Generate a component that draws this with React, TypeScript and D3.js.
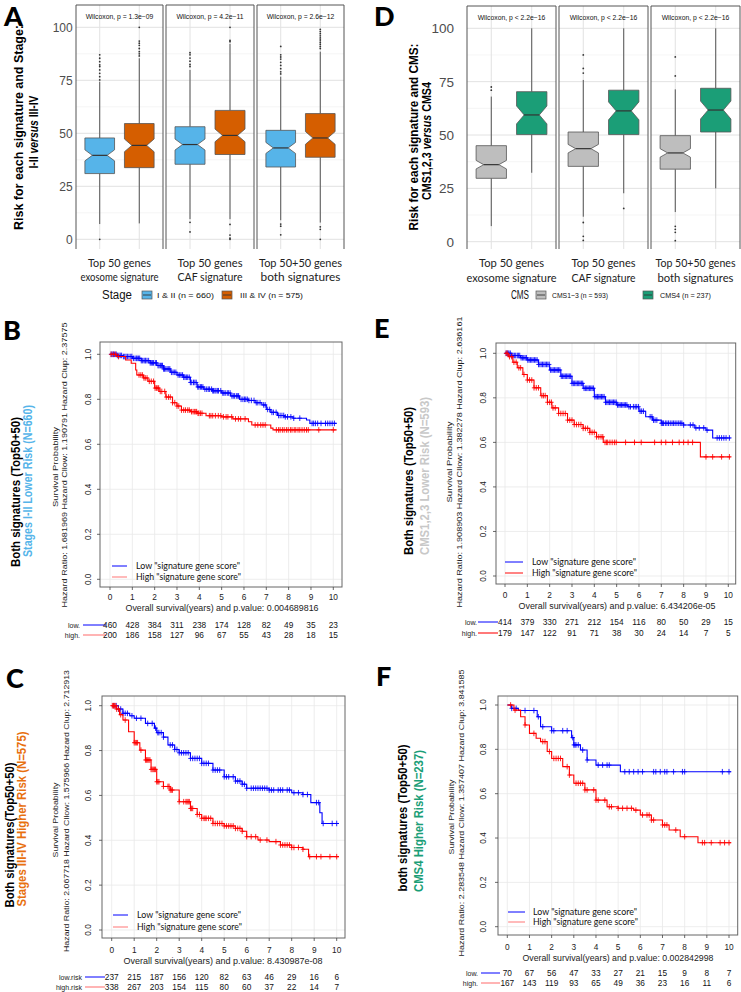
import React from "react";
import * as d3 from "d3";

// ---------------- Box plot data (A: Stage, D: CMS) ----------------
const facetTop = ["Top 50 genes", "Top 50 genes", "Top 50+50 genes"];
const facetBottom = ["exosome signature", "CAF signature", "both signatures"];
const riskTicks = [0, 25, 50, 75, 100];
const riskMinor = [12.5, 37.5, 62.5, 87.5];

// [lower whisker, Q1, median, Q3, upper whisker]
const stageEarlyBox = [[7.2, 31, 39.6, 47.8, 74.3], [9.5, 35.4, 44.7, 53.1, 79.9], [9, 34.1, 43.1, 51.4, 76.7]];
const stageLateBox = [[7.5, 33.8, 44.3, 54.6, 85.4], [9.5, 40, 49, 60.8, 92.2], [7.9, 38.7, 47.8, 59.3, 88.5]];
const stageEarlyOut = [
  [87, 85.4, 83.8, 82.3, 81.5, 79.9, 78.3, 76.7, 75.2, 0],
  [88, 87, 85.5, 84, 82.5, 81.5, 8, 3.5],
  [91, 87, 86, 85, 83.5, 82, 80.5, 79, 78, 7.2, 6.2, 2.1],
];
const stageLateOut = [
  [100, 93.5, 92.5, 91.5, 90, 88.5, 87.5, 86.5],
  [100, 93.8, 93.2, 7, 2, 0.5, 0],
  [99, 98, 97, 96, 95, 94, 93, 92, 91, 90, 5.9, 4.7, 0],
];
const stageNotch = [2.6, 3];
const stagePLabels = ["Wilcoxon, p = 1.3e\u221209", "Wilcoxon, p = 4.2e\u221211", "Wilcoxon, p = 2.6e\u221212"];
const stageLegend = ["I & II (n = 660)", "III & IV (n = 575)"];

const cmsLowBox = [[7.3, 29.7, 36.1, 45, 68], [11.7, 35.3, 43.6, 51.4, 75.8], [13.9, 34, 41.6, 49.7, 71.4]];
const cmsHighBox = [[32.3, 50.2, 59.4, 70.3, 100], [22.7, 50.2, 61.3, 71, 100], [25, 51.4, 61.7, 71.9, 100]];
const cmsLowOut = [
  [72.5, 71],
  [87.5, 81.2, 79, 9, 2.5, 0.6],
  [86.6, 77.7, 7.2, 5.8, 4.4, 0.5],
];
const cmsHighOut = [[], [15.6], []];
const cmsNotch = [2, 4.2];
const cmsPLabels = ["Wilcoxon, p < 2.2e\u221216", "Wilcoxon, p < 2.2e\u221216", "Wilcoxon, p < 2.2e\u221216"];
const cmsLegend = ["CMS1\u22123 (n = 593)", "CMS4 (n = 237)"];

// ---------------- Kaplan-Meier data ----------------
// step points [years, survival]
const bLow = [[0, 1], [0.3, 0.995], [0.6, 0.99], [1.0, 0.982], [1.4, 0.972], [1.8, 0.962], [2.1, 0.95], [2.4, 0.935], [2.7, 0.92], [3.0, 0.908], [3.3, 0.898], [3.6, 0.875], [3.9, 0.855], [4.2, 0.845], [4.6, 0.838], [5.0, 0.828], [5.4, 0.815], [5.8, 0.8], [6.2, 0.795], [6.5, 0.785], [6.8, 0.775], [7.0, 0.755], [7.2, 0.742], [7.5, 0.728], [7.8, 0.722], [8.2, 0.716], [8.8, 0.708], [8.95, 0.693], [10.15, 0.693]];
const bHigh = [[0, 1], [0.3, 0.99], [0.7, 0.975], [0.95, 0.96], [1.15, 0.93], [1.2, 0.908], [1.5, 0.895], [1.7, 0.88], [2.0, 0.85], [2.2, 0.835], [2.5, 0.81], [2.8, 0.785], [3.0, 0.77], [3.2, 0.752], [3.6, 0.745], [3.9, 0.738], [4.3, 0.727], [5.0, 0.722], [5.5, 0.713], [6.2, 0.7], [6.35, 0.686], [7.2, 0.672], [7.3, 0.664], [10.15, 0.664]];
const bLowCens = [0.05, 0.1, 0.15, 0.2, 0.28, 0.33, 0.4, 0.46, 0.52, 0.6, 0.66, 0.72, 0.78, 0.85, 0.93, 0.98, 1.05, 1.12, 1.18, 1.22, 1.28, 1.33, 1.4, 1.45, 1.52, 1.57, 1.6, 1.66, 1.73, 1.8, 1.85, 1.9, 1.95, 2.03, 2.08, 2.15, 2.2, 2.26, 2.31, 2.35, 2.4, 2.44, 2.5, 2.56, 2.63, 2.68, 2.75, 2.82, 2.88, 2.95, 3.05, 3.12, 3.18, 3.25, 3.3, 3.36, 3.42, 3.48, 3.55, 3.6, 3.66, 3.74, 3.8, 3.86, 3.93, 3.98, 4.05, 4.1, 4.16, 4.25, 4.33, 4.4, 4.46, 4.55, 4.6, 4.64, 4.7, 4.75, 4.82, 4.86, 4.96, 5.05, 5.1, 5.16, 5.25, 5.3, 5.38, 5.46, 5.52, 5.58, 5.66, 5.72, 5.76, 5.87, 5.95, 6.02, 6.08, 6.15, 6.22, 6.33, 6.45, 6.55, 6.62, 6.72, 6.88, 6.95, 7.06, 7.15, 7.25, 7.32, 7.44, 7.55, 7.62, 7.7, 7.78, 7.85, 7.95, 8.1, 8.23, 8.5, 9.05, 9.12, 9.2, 9.3, 9.45, 9.65, 9.75, 9.85, 9.95, 10.05];
const bHighCens = [0.05, 0.15, 0.25, 0.38, 1.3, 1.38, 1.45, 1.52, 1.58, 1.66, 1.76, 1.85, 1.95, 2.02, 2.08, 2.14, 2.18, 2.25, 2.32, 2.45, 2.52, 2.62, 2.7, 2.8, 2.9, 3.0, 3.08, 3.2, 3.3, 3.38, 3.48, 3.55, 3.65, 3.72, 3.78, 3.84, 3.88, 3.94, 3.98, 4.05, 4.12, 4.45, 4.52, 4.6, 4.72, 4.85, 4.96, 5.08, 5.2, 5.28, 5.45, 5.62, 5.75, 5.85, 6.05, 6.5, 6.62, 6.75, 6.85, 6.95, 7.45, 7.55, 7.62, 7.72, 7.8, 7.9, 7.98, 8.08, 8.15, 8.25, 8.32, 8.42, 8.5, 8.6, 8.7, 8.8, 8.88, 9.35, 10.0];

const eLow = [[0, 1], [0.3, 0.99], [0.7, 0.98], [1.0, 0.97], [1.5, 0.95], [2.0, 0.925], [2.5, 0.897], [3.0, 0.865], [3.5, 0.843], [4.0, 0.805], [4.5, 0.78], [5.0, 0.768], [5.5, 0.76], [6.0, 0.74], [6.3, 0.715], [6.6, 0.7], [7.0, 0.686], [8.0, 0.678], [8.5, 0.665], [9.0, 0.655], [9.3, 0.62], [10.1, 0.62]];
const eHigh = [[0, 1], [0.15, 0.985], [0.35, 0.96], [0.55, 0.935], [0.8, 0.905], [1.0, 0.88], [1.3, 0.845], [1.6, 0.81], [1.9, 0.78], [2.1, 0.755], [2.4, 0.73], [2.8, 0.7], [3.1, 0.68], [3.5, 0.663], [3.8, 0.645], [4.1, 0.625], [4.4, 0.6], [8.75, 0.535], [10.1, 0.535]];
const eLowCens = [0.05, 0.1, 0.14, 0.18, 0.24, 0.3, 0.36, 0.42, 0.48, 0.55, 0.6, 0.66, 0.72, 0.78, 0.84, 0.9, 0.96, 1.02, 1.08, 1.14, 1.2, 1.26, 1.32, 1.38, 1.44, 1.5, 1.56, 1.62, 1.68, 1.74, 1.8, 1.86, 1.92, 1.98, 2.04, 2.1, 2.16, 2.22, 2.28, 2.34, 2.4, 2.46, 2.52, 2.58, 2.64, 2.7, 2.76, 2.82, 2.88, 2.94, 3.0, 3.06, 3.12, 3.18, 3.24, 3.3, 3.36, 3.42, 3.48, 3.54, 3.6, 3.66, 3.72, 3.78, 3.84, 3.9, 3.96, 4.02, 4.08, 4.14, 4.2, 4.26, 4.32, 4.38, 4.44, 4.5, 4.56, 4.62, 4.68, 4.74, 4.8, 4.86, 4.92, 4.98, 5.04, 5.1, 5.16, 5.22, 5.28, 5.34, 5.4, 5.46, 5.55, 5.62, 5.75, 5.83, 5.9, 5.98, 6.05, 6.12, 6.2, 6.5, 6.58, 6.65, 6.72, 6.8, 7.0, 7.05, 7.1, 7.18, 7.25, 7.32, 7.4, 7.48, 7.55, 7.62, 7.7, 7.78, 7.85, 7.92, 8.0, 8.3, 8.42, 8.55, 8.7, 8.9, 9.05, 9.5, 9.6, 9.7, 9.8, 9.9, 10.05];
const eHighCens = [0.05, 0.1, 0.2, 0.3, 0.4, 0.5, 0.62, 0.7, 0.85, 1.0, 1.1, 1.2, 1.3, 1.4, 1.5, 1.65, 1.72, 1.8, 1.9, 2.0, 2.08, 2.15, 2.25, 2.4, 2.5, 2.6, 2.7, 2.8, 2.9, 3.0, 3.1, 3.2, 3.3, 3.4, 3.5, 3.6, 3.7, 3.8, 3.9, 4.0, 4.1, 4.2, 4.3, 4.38, 4.48, 4.55, 4.6, 4.7, 4.8, 4.9, 4.98, 5.4, 5.8, 6.1, 6.7, 7.0, 7.2, 7.5, 7.8, 8.0, 8.2, 8.4, 9.0, 9.3, 9.7, 10.05];

const cLow = [[0, 1], [0.3, 0.985], [0.5, 0.966], [0.8, 0.955], [1.0, 0.944], [1.5, 0.921], [1.9, 0.9], [2.0, 0.88], [2.3, 0.86], [2.5, 0.825], [2.8, 0.805], [3.0, 0.79], [3.5, 0.765], [4.0, 0.743], [4.5, 0.713], [5.0, 0.683], [5.5, 0.664], [5.8, 0.65], [6.0, 0.632], [7.0, 0.624], [8.0, 0.612], [8.5, 0.604], [8.85, 0.568], [9.25, 0.523], [9.35, 0.475], [10.1, 0.475]];
const cHigh = [[0, 1], [0.2, 0.985], [0.35, 0.96], [0.5, 0.936], [0.75, 0.884], [1.0, 0.835], [1.25, 0.802], [1.5, 0.758], [1.75, 0.716], [2.0, 0.661], [2.3, 0.64], [2.6, 0.624], [3.0, 0.572], [3.5, 0.542], [3.8, 0.515], [4.0, 0.498], [4.5, 0.475], [5.0, 0.464], [5.5, 0.453], [5.8, 0.44], [6.0, 0.416], [6.5, 0.401], [7.0, 0.394], [7.5, 0.379], [8.0, 0.368], [8.5, 0.36], [8.75, 0.327], [10.1, 0.327]];
const cLowCens = [0.1, 0.2, 0.3, 0.4, 0.5, 0.6, 0.7, 0.9, 1.1, 1.3, 1.6, 1.8, 1.95, 2.05, 2.1, 2.2, 2.3, 2.6, 2.7, 2.8, 2.9, 3.0, 3.1, 3.2, 3.3, 3.4, 3.5, 3.6, 3.7, 3.8, 3.9, 4.0, 4.1, 4.2, 4.3, 4.5, 4.6, 4.7, 4.8, 5.0, 5.1, 5.2, 5.4, 5.5, 5.6, 5.7, 5.8, 5.9, 6.0, 6.2, 6.3, 6.4, 6.5, 6.6, 6.7, 6.8, 6.9, 7.0, 7.1, 7.2, 7.4, 7.5, 7.6, 7.8, 7.9, 8.1, 8.3, 8.5, 8.7, 9.1, 9.2, 9.4, 9.8, 10.0];
const cHighCens = [0.03, 0.08, 0.12, 0.18, 0.22, 0.3, 0.4, 0.6, 1.0, 1.05, 1.1, 1.15, 1.3, 1.5, 1.55, 1.6, 1.65, 1.7, 1.75, 1.8, 1.85, 1.9, 1.95, 2.0, 2.05, 2.1, 2.3, 2.5, 2.55, 2.6, 2.65, 2.7, 3.0, 3.2, 3.3, 3.35, 3.4, 3.45, 3.5, 3.55, 3.6, 3.8, 3.9, 4.0, 4.1, 4.15, 4.2, 4.3, 4.4, 4.5, 4.6, 4.7, 4.8, 4.9, 5.0, 5.1, 5.2, 5.3, 5.4, 5.5, 5.6, 5.7, 5.8, 6.0, 6.2, 6.4, 6.6, 6.9, 7.3, 7.5, 7.6, 7.7, 7.8, 7.9, 8.0, 8.1, 8.3, 8.5, 8.8, 9.1, 9.3, 9.7, 10.0];

const fLow = [[0, 1], [0.2, 0.985], [0.5, 0.975], [1.35, 0.947], [1.5, 0.902], [2.0, 0.884], [2.9, 0.853], [3.0, 0.82], [3.3, 0.797], [3.6, 0.752], [4.0, 0.729], [5.1, 0.699], [10.1, 0.699]];
const fHigh = [[0, 1], [0.3, 0.977], [0.6, 0.947], [0.8, 0.91], [1.0, 0.872], [1.3, 0.85], [1.5, 0.835], [1.8, 0.79], [2.0, 0.759], [2.5, 0.722], [2.8, 0.684], [3.0, 0.647], [3.5, 0.617], [4.0, 0.571], [4.5, 0.541], [5.0, 0.534], [5.7, 0.526], [6.0, 0.504], [6.5, 0.481], [7.0, 0.459], [7.3, 0.436], [7.8, 0.406], [8.6, 0.379], [10.1, 0.379]];
const fLowCens = [0.2, 0.4, 0.8, 1.2, 1.4, 1.6, 2.0, 2.1, 2.5, 2.7, 2.95, 3.0, 3.05, 3.1, 3.2, 3.4, 3.6, 4.1, 4.3, 4.5, 4.6, 5.3, 5.5, 5.7, 5.9, 6.1, 6.6, 6.7, 6.9, 7.1, 7.2, 7.5, 7.9, 8.0, 9.7, 10.0];
const fHighCens = [0.15, 0.35, 0.8, 1.2, 1.6, 1.7, 1.9, 2.1, 2.2, 2.3, 2.4, 2.7, 2.8, 3.1, 3.2, 3.3, 3.4, 3.5, 3.6, 3.9, 4.0, 4.1, 4.4, 4.6, 4.7, 5.0, 5.2, 5.4, 5.6, 5.8, 6.1, 6.3, 6.4, 6.5, 6.6, 7.0, 7.1, 7.2, 7.6, 8.0, 8.8, 8.9, 9.2, 9.6, 9.8, 10.0];

// numbers at risk (years 0..10)
const bRiskLow = [460, 428, 384, 311, 238, 174, 128, 82, 49, 35, 23];
const bRiskHigh = [200, 186, 158, 127, 96, 67, 55, 43, 28, 18, 15];
const eRiskLow = [414, 379, 330, 271, 212, 154, 116, 80, 50, 29, 15];
const eRiskHigh = [179, 147, 122, 91, 71, 38, 30, 24, 14, 7, 5];
const cRiskLow = [237, 215, 187, 156, 120, 82, 63, 46, 29, 16, 6];
const cRiskHigh = [338, 267, 203, 154, 115, 80, 60, 37, 22, 14, 7];
const fRiskLow = [70, 67, 56, 47, 33, 27, 21, 15, 9, 8, 7];
const fRiskHigh = [167, 143, 119, 93, 65, 49, 36, 23, 16, 11, 6];

const hazardB = "Hazard Ratio: 1.681969  Hazard Cllow: 1.190791  Hazard Clup: 2.37575";
const hazardE = "Hazard Ratio: 1.908903  Hazard Cllow: 1.382278  Hazard Clup: 2.636161";
const hazardC = "Hazard Ratio: 2.067718  Hazard Cllow: 1.575966  Hazard Clup: 2.712913";
const hazardF = "Hazard Ratio: 2.283548  Hazard Cllow: 1.357407  Hazard Clup: 3.841585";
const pvalB = "0.004689816";
const pvalE = "6.434206e-05";
const pvalC = "8.430987e-08";
const pvalF = "0.002842998";

const ARIAL = "'Liberation Sans', Arial, sans-serif";
const CALIBRI = "Lato, 'Open Sans', sans-serif";

type Pt = number[];

function survAt(pts: Pt[], t: number) {
  let s = pts[0][1];
  for (const p of pts) {
    if (p[0] <= t) s = p[1];
    else break;
  }
  return s;
}

function BoxPanel(props: any) {
  const { c, low, high, lowOut, highOut, notch, pLabels, colors, legendTitle, legendLabels } = props;
  const y = d3.scaleLinear().domain([0, 100]).range([c.y0, c.y100]);
  const groups = [
    { box: low, out: lowOut, notch: notch[0], color: colors[0], pos: 1 },
    { box: high, out: highOut, notch: notch[1], color: colors[1], pos: 2 },
  ];
  return (
    <g>
      {c.facets.map((f: number[], i: number) => {
        const x = d3.scaleLinear().domain([0.4, 2.6]).range([f[0], f[1]]);
        const hw = x(1.375) - x(1);
        return (
          <g key={i}>
            {riskMinor.map((v) => (
              <line key={"mi" + v} x1={f[0]} x2={f[1]} y1={y(v)} y2={y(v)} stroke="#EFEFEF" strokeWidth={0.6} />
            ))}
            {riskTicks.map((v) => (
              <line key={"ma" + v} x1={f[0]} x2={f[1]} y1={y(v)} y2={y(v)} stroke="#E2E2E2" strokeWidth={1} />
            ))}
            {[1, 2].map((p) => (
              <line key={"v" + p} x1={x(p)} x2={x(p)} y1={c.top} y2={c.bottom} stroke="#E2E2E2" strokeWidth={1} />
            ))}
            {groups.map((g, gi) => {
              const [lo, q1, med, q3, hi] = g.box[i];
              const cx = x(g.pos);
              const n = g.notch;
              const path = [
                [cx - hw, y(q3)], [cx - hw, y(med + n)], [cx - hw / 2, y(med)], [cx - hw, y(med - n)], [cx - hw, y(q1)],
                [cx + hw, y(q1)], [cx + hw, y(med - n)], [cx + hw / 2, y(med)], [cx + hw, y(med + n)], [cx + hw, y(q3)],
              ];
              return (
                <g key={gi}>
                  <line x1={cx} x2={cx} y1={y(q3)} y2={y(hi)} stroke="#444" strokeWidth={0.9} />
                  <line x1={cx} x2={cx} y1={y(q1)} y2={y(lo)} stroke="#444" strokeWidth={0.9} />
                  <path d={"M" + path.map((p) => p.join(",")).join("L") + "Z"} fill={g.color} stroke="#555" strokeWidth={0.8} />
                  <line x1={cx - hw / 2} x2={cx + hw / 2} y1={y(med)} y2={y(med)} stroke="#333" strokeWidth={1.2} />
                  {g.out[i].map((v: number, k: number) => (
                    <circle key={k} cx={cx} cy={y(v)} r={0.9} fill="#333" />
                  ))}
                </g>
              );
            })}
            <line x1={f[0]} x2={f[0]} y1={c.top} y2={c.bottom} stroke="#555" strokeWidth={1} />
            <line x1={f[1]} x2={f[1]} y1={c.top} y2={c.bottom} stroke="#555" strokeWidth={1} />
            <line x1={f[0]} x2={f[1]} y1={c.top} y2={c.top} stroke="#555" strokeWidth={1} />
            <text x={(f[0] + f[1]) / 2} y={c.pY} fontSize={6.8} fontFamily={ARIAL} textAnchor="middle" fill="#111">
              {pLabels[i]}
            </text>
            <text x={(f[0] + f[1]) / 2} y={c.lab1Y} fontSize={11} fontFamily={CALIBRI} textAnchor="middle" fill="#222"
              textLength={c.lab1W[i]} lengthAdjust="spacingAndGlyphs">{facetTop[i]}</text>
            <text x={(f[0] + f[1]) / 2} y={c.lab2Y} fontSize={11} fontFamily={CALIBRI} textAnchor="middle" fill="#222"
              textLength={c.lab2W[i]} lengthAdjust="spacingAndGlyphs">{facetBottom[i]}</text>
          </g>
        );
      })}
      {riskTicks.map((v) => (
        <text key={"t" + v} x={c.tickRight} y={y(v) + c.tickFont * 0.36} fontSize={c.tickFont} fontFamily={ARIAL} textAnchor="end" fill="#4D4D4D">
          {v}
        </text>
      ))}
      {/* y titles */}
      <text transform={`translate(${c.t1x},${c.t1cy}) rotate(-90)`} textAnchor="middle" fontSize={12} fontWeight="bold" fontFamily={ARIAL}
        textLength={c.t1w} lengthAdjust="spacingAndGlyphs" dy="0.35em">{c.title1}</text>
      <text transform={`translate(${c.t2x},${c.t2cy}) rotate(-90)`} textAnchor="middle" fontSize={12} fontWeight="bold" fontFamily={ARIAL}
        textLength={c.t2w} lengthAdjust="spacingAndGlyphs" dy="0.35em">
        {c.title2[0]}<tspan fontStyle="italic">{c.title2[1]}</tspan>{c.title2[2]}
      </text>
      {/* legend */}
      <text x={c.lg.titleX} y={c.lg.y + 4.3} fontSize={12} fontFamily={ARIAL} fill="#111" textLength={c.lg.titleW} lengthAdjust="spacingAndGlyphs">{legendTitle}</text>
      {[0, 1].map((k) => (
        <g key={k}>
          <rect x={c.lg.keyX[k]} y={c.lg.y - 4} width={10} height={8} fill={colors[k]} stroke="#555" strokeWidth={0.7} />
          <line x1={c.lg.keyX[k] + 1} x2={c.lg.keyX[k] + 9} y1={c.lg.y} y2={c.lg.y} stroke="#333" strokeWidth={0.9} />
          <text x={c.lg.textX[k]} y={c.lg.y + 2.6} fontSize={7.5} fontFamily={ARIAL} fill="#111" textLength={c.lg.textW[k]} lengthAdjust="spacingAndGlyphs">{legendLabels[k]}</text>
        </g>
      ))}
      <text x={c.letter[0]} y={c.letter[1]} fontSize={27} fontWeight={900} fontFamily={CALIBRI}>{c.letterText}</text>
    </g>
  );
}

function KMPanel({ L }: any) {
  const x = d3.scaleLinear().domain([0, 10]).range([L.x0, L.x10]);
  const y = d3.scaleLinear().domain([0, 1]).range([L.y0, L.y1]);
  const line = d3.line<Pt>().x((d) => x(d[0])).y((d) => y(d[1])).curve(d3.curveStepAfter);
  const xt = x.ticks(10);
  const yt = y.ticks(5);
  const fmt = d3.format(".1f");
  const curves = [
    { pts: L.low, cens: L.lowCens, color: "#0000FF" },
    { pts: L.high, cens: L.highCens, color: "#FF0000" },
  ];
  return (
    <g>
      {xt.map((t) => (
        <line key={"gx" + t} x1={x(t)} x2={x(t)} y1={L.fy0} y2={L.fy1} stroke="#E8E8E8" strokeWidth={0.8} />
      ))}
      {yt.map((t) => (
        <line key={"gy" + t} x1={L.fx0} x2={L.fx1} y1={y(t)} y2={y(t)} stroke="#E8E8E8" strokeWidth={0.8} />
      ))}
      {curves.map((cv, i) => (
        <g key={i}>
          <path d={line(cv.pts as Pt[]) || ""} fill="none" stroke={cv.color} strokeWidth={1.1} />
          {cv.cens.map((t: number, k: number) => {
            const cx = x(t);
            const cy = y(survAt(cv.pts, t));
            return (
              <path key={k} d={`M${cx - 2.2},${cy}H${cx + 2.2}M${cx},${cy - 2.8}V${cy + 2.8}`} stroke={cv.color} strokeWidth={1} strokeOpacity={0.85} />
            );
          })}
        </g>
      ))}
      <rect x={L.fx0} y={L.fy0} width={L.fx1 - L.fx0} height={L.fy1 - L.fy0} fill="none" stroke="#666" strokeWidth={1} />
      {xt.map((t) => (
        <g key={"xt" + t}>
          <line x1={x(t)} x2={x(t)} y1={L.fy1} y2={L.fy1 + 3} stroke="#444" strokeWidth={0.8} />
          <text x={x(t)} y={L.xtY + 3} fontSize={8.3} fontFamily={ARIAL} textAnchor="middle" fill="#222">{t}</text>
        </g>
      ))}
      {yt.map((t) => (
        <g key={"yt" + t}>
          <line x1={L.fx0} x2={L.fx0 - 3} y1={y(t)} y2={y(t)} stroke="#444" strokeWidth={0.8} />
          <text transform={`translate(${L.ytX},${y(t)}) rotate(-90)`} dy="0.35em" fontSize={8.3} fontFamily={ARIAL} textAnchor="middle" fill="#222">{fmt(t)}</text>
        </g>
      ))}
      <text x={L.xlX} y={L.xlY + 3} fontSize={8.5} fontFamily={ARIAL} textAnchor="middle" fill="#222" textLength={L.xlW} lengthAdjust="spacingAndGlyphs">
        {"Overall survival(years) and p.value:  " + L.pval}
      </text>
      <text transform={`translate(${L.spX},${L.spY}) rotate(-90)`} dy="0.35em" fontSize={8} fontFamily={ARIAL} textAnchor="middle" fill="#222" textLength={L.spW} lengthAdjust="spacingAndGlyphs">
        Survival Probability
      </text>
      <text transform={`translate(${L.hzX},${L.hzY}) rotate(-90)`} dy="0.35em" fontSize={8} fontFamily={ARIAL} textAnchor="middle" fill="#222" textLength={L.hzW} lengthAdjust="spacingAndGlyphs">
        {L.hazard}
      </text>
      {/* legend */}
      <line x1={L.lgX[0]} x2={L.lgX[1]} y1={L.lgY[0]} y2={L.lgY[0]} stroke="#0000FF" strokeWidth={1} />
      <line x1={L.lgX[0]} x2={L.lgX[1]} y1={L.lgY[1]} y2={L.lgY[1]} stroke={L.lgRed} strokeWidth={1.2} />
      <text x={L.lgTX} y={L.lgY[0] + 3} fontSize={8.5} fontFamily={CALIBRI} fill="#111" textLength={104} lengthAdjust="spacingAndGlyphs">Low "signature gene score"</text>
      <text x={L.lgTX} y={L.lgY[1] + 3} fontSize={8.5} fontFamily={CALIBRI} fill="#111" textLength={105} lengthAdjust="spacingAndGlyphs">High "signature gene score"</text>
      {/* titles */}
      <text transform={`translate(${L.t1[0]},${L.t1[1]}) rotate(-90)`} dy="0.35em" fontSize={12.5} fontWeight="bold" fontFamily={ARIAL} textAnchor="middle" fill="#000" textLength={L.t1[2]} lengthAdjust="spacingAndGlyphs">
        {L.title1}
      </text>
      <text transform={`translate(${L.t2[0]},${L.t2[1]}) rotate(-90)`} dy="0.35em" fontSize={12.5} fontWeight="bold" fontFamily={ARIAL} textAnchor="middle" fill={L.title2Color} textLength={L.t2[2]} lengthAdjust="spacingAndGlyphs">
        {L.title2}
      </text>
      {/* risk table */}
      {[0, 1].map((r) => (
        <g key={"r" + r}>
          <text x={L.rkLabelR} y={L.rkY[r] + 2.5} fontSize={7} fontFamily={ARIAL} textAnchor="end" fill="#222">{L.rkNames[r]}</text>
          <line x1={L.rkLine[0]} x2={L.rkLine[1]} y1={L.rkY[r]} y2={L.rkY[r]} stroke={r === 0 ? "#0000FF" : L.lgRed} strokeWidth={r === 0 ? 1 : 1.3} />
          {L.risk[r].map((v: number, k: number) => (
            <text key={k} x={x(k)} y={L.rkY[r] + 3} fontSize={8.3} fontFamily={ARIAL} textAnchor="middle" fill="#111">{v}</text>
          ))}
        </g>
      ))}
      <text x={L.letter[0]} y={L.letter[1]} fontSize={27} fontWeight={900} fontFamily={CALIBRI}>{L.letterText}</text>
    </g>
  );
}

const panelA = {
  facets: [[76, 163], [166, 254], [257, 344]],
  top: 5, bottom: 249, y0: 239.3, y100: 27.3, pY: 18.5,
  lab1Y: 267, lab2Y: 281, lab1W: [63, 65, 83], lab2W: [78, 65, 80],
  tickRight: 72.7, tickFont: 12,
  t1x: 19, t1cy: 127.5, t1w: 205, title1: "Risk for each signature and Stage:",
  t2x: 33.5, t2cy: 132, t2w: 73, title2: ["I-II ", "versus", " III-IV"],
  lg: { y: 295, titleX: 102, titleW: 30, keyX: [142, 222], textX: [157, 240], textW: [57, 63] },
  letter: [4, 26], letterText: "A",
};
const panelD = {
  facets: [[467, 556], [559, 648], [651, 740]],
  top: 6, bottom: 249, y0: 241.7, y100: 28.3, pY: 19.5,
  lab1Y: 267, lab2Y: 282, lab1W: [65, 64, 80], lab2W: [90, 64, 76],
  tickRight: 454, tickFont: 13.5,
  t1x: 414, t1cy: 137, t1w: 187, title1: "Risk for each signature and CMS:",
  t2x: 427, t2cy: 141, t2w: 118, title2: ["CMS1,2,3 ", "versus", " CMS4"],
  lg: { y: 295, titleX: 511, titleW: 18, keyX: [536, 643], textX: [552, 660], textW: [56, 51] },
  letter: [374, 26], letterText: "D",
};

const panelB = {
  low: bLow, high: bHigh, lowCens: bLowCens, highCens: bHighCens,
  fx0: 100, fx1: 342, fy0: 342, fy1: 587, x0: 110, x10: 333.3, y0: 579.3, y1: 354.3,
  xtY: 597, ytX: 88, xlX: 222, xlY: 608, xlW: 193, pval: pvalB,
  spX: 55, spY: 467, spW: 80, hzX: 64.5, hzY: 465, hzW: 285, hazard: hazardB,
  lgX: [112, 127], lgY: [566, 577], lgTX: 136, lgRed: "#FF8C8C",
  t1: [16, 492, 150], t2: [28, 481, 152], title1: "Both signatures (Top50+50)", title2: "Stages I-II Lower Risk (N=660)", title2Color: "#56B4E9",
  rkY: [625, 635], rkLabelR: 80, rkLine: [83, 106], rkNames: ["low.", "high."], risk: [bRiskLow, bRiskHigh],
  letter: [3, 340], letterText: "B",
};
const panelE = {
  low: eLow, high: eHigh, lowCens: eLowCens, highCens: eHighCens,
  fx0: 496, fx1: 735.7, fy0: 343, fy1: 584, x0: 505, x10: 728.3, y0: 576, y1: 353.3,
  xtY: 595, ytX: 483, xlX: 617, xlY: 605.5, xlW: 197, pval: pvalE,
  spX: 449.5, spY: 462, spW: 81, hzX: 459.5, hzY: 462, hzW: 291, hazard: hazardE,
  lgX: [505, 523], lgY: [562, 573], lgTX: 532, lgRed: "#FF3030",
  t1: [409, 481, 148], t2: [425, 476, 158], title1: "Both signatures (Top50+50)", title2: "CMS1,2,3 Lower Risk (N=593)", title2Color: "#C8C8C8",
  rkY: [622, 633], rkLabelR: 477, rkLine: [478, 498], rkNames: ["low.", "high."], risk: [eRiskLow, eRiskHigh],
  letter: [374, 338], letterText: "E",
};
const panelC = {
  low: cLow, high: cHigh, lowCens: cLowCens, highCens: cHighCens,
  fx0: 102, fx1: 345, fy0: 696, fy1: 938, x0: 111.7, x10: 336.7, y0: 930, y1: 705.7,
  xtY: 950, ytX: 88, xlX: 223, xlY: 961, xlW: 199, pval: pvalC,
  spX: 55, spY: 820, spW: 75, hzX: 66, hzY: 811, hzW: 282, hazard: hazardC,
  lgX: [113, 128], lgY: [915, 927], lgTX: 137, lgRed: "#FF8C8C",
  t1: [10, 835, 145], t2: [22, 819, 175], title1: "Both signatures(Top50+50)", title2: "Stages III-IV Higher Risk (N=575)", title2Color: "#E8700F",
  rkY: [977, 987], rkLabelR: 82, rkLine: [85, 105], rkNames: ["low.risk", "high.risk"], risk: [cRiskLow, cRiskHigh],
  letter: [6, 688], letterText: "C",
};
const panelF = {
  low: fLow, high: fHigh, lowCens: fLowCens, highCens: fHighCens,
  fx0: 498, fx1: 737.7, fy0: 696, fy1: 935, x0: 507.3, x10: 729, y0: 926.7, y1: 705,
  xtY: 946.7, ytX: 483, xlX: 618, xlY: 957.5, xlW: 191, pval: pvalF,
  spX: 451, spY: 817, spW: 75, hzX: 461, hzY: 813, hzW: 287, hazard: hazardF,
  lgX: [508, 525], lgY: [912, 922], lgTX: 533, lgRed: "#FF8C8C",
  t1: [403, 818, 147], t2: [419, 821, 142], title1: "both signatures (Top50+50)", title2: "CMS4 Higher Risk (N=237)", title2Color: "#1B9E77",
  rkY: [973, 983], rkLabelR: 478, rkLine: [481, 500], rkNames: ["low.", "high."], risk: [fRiskLow, fRiskHigh],
  letter: [376, 686], letterText: "F",
};

export default function App() {
  return (
    <svg width={741} height={992} style={{ position: "absolute", left: 0, top: 0, background: "#fff" }}>
      <rect width={741} height={992} fill="#fff" />
      <BoxPanel c={panelA} low={stageEarlyBox} high={stageLateBox} lowOut={stageEarlyOut} highOut={stageLateOut}
        notch={stageNotch} pLabels={stagePLabels} colors={["#56B4E9", "#D55E00"]} legendTitle="Stage" legendLabels={stageLegend} />
      <BoxPanel c={panelD} low={cmsLowBox} high={cmsHighBox} lowOut={cmsLowOut} highOut={cmsHighOut}
        notch={cmsNotch} pLabels={cmsPLabels} colors={["#BEBEBE", "#1B9E77"]} legendTitle="CMS" legendLabels={cmsLegend} />
      <KMPanel L={panelB} />
      <KMPanel L={panelE} />
      <KMPanel L={panelC} />
      <KMPanel L={panelF} />
    </svg>
  );
}
